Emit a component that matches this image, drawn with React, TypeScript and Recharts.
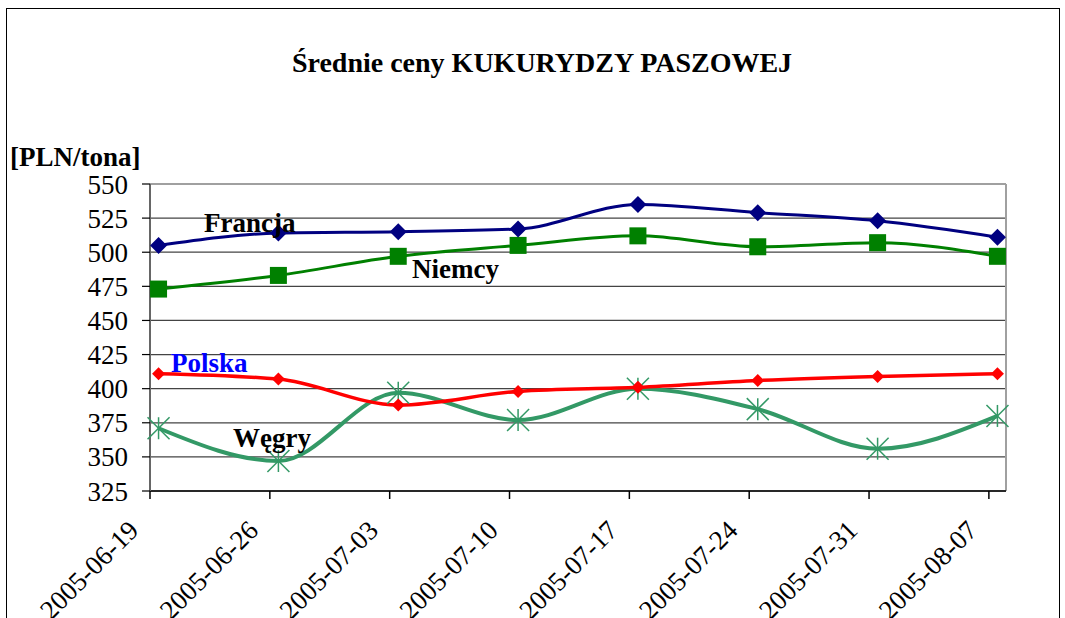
import { LineChart, Line, XAxis, YAxis, CartesianGrid, ReferenceLine } from 'recharts';

const dates = ['2005-06-19', '2005-06-26', '2005-07-03', '2005-07-10', '2005-07-17', '2005-07-24', '2005-07-31', '2005-08-07'];
const francja = [505, 514, 515, 517, 535, 529, 523, 511];
const niemcy = [473, 483, 497, 505, 512, 504, 507, 497];
const polska = [411, 407, 388, 398, 401, 406, 409, 411];
const wegry = [371, 347, 397, 377, 400, 385, 356, 380];
const yTicks = [325, 350, 375, 400, 425, 450, 475, 500, 525, 550];

const DAY = 86400000;
const start = Date.parse(dates[0]);
const dayOf = (d: string) => Math.round((Date.parse(d) - start) / DAY);
// Excel date axis: each point sits in the middle of its day
const data = dates.map((d, i) => ({
  x: dayOf(d) + 0.5,
  francja: francja[i],
  niemcy: niemcy[i],
  polska: polska[i],
  wegry: wegry[i],
}));
const xTicks = dates.map(dayOf);
const xEnd = dayOf(dates[dates.length - 1]) + 1;

const FONT = 'Liberation Serif, Tinos, Times New Roman, DejaVu Serif, serif';

const Diamond = (color: string, r: number) => (p: any) => {
  const { cx, cy } = p;
  if (cx == null || cy == null) return <g />;
  return <polygon points={`${cx},${cy - r} ${cx + r},${cy} ${cx},${cy + r} ${cx - r},${cy}`} fill={color} />;
};

const Square = (color: string, r: number) => (p: any) => {
  const { cx, cy } = p;
  if (cx == null || cy == null) return <g />;
  return <rect x={cx - r} y={cy - r} width={r * 2} height={r * 2} fill={color} />;
};

const Star = (color: string, r: number) => (p: any) => {
  const { cx, cy } = p;
  if (cx == null || cy == null) return <g />;
  return (
    <g stroke={color} strokeWidth={1.5}>
      <line x1={cx - r} y1={cy - r} x2={cx + r} y2={cy + r} />
      <line x1={cx - r} y1={cy + r} x2={cx + r} y2={cy - r} />
      <line x1={cx} y1={cy - r} x2={cx} y2={cy + r} />
    </g>
  );
};

const DateTick = (props: any) => {
  const { x, y, payload } = props;
  const label = dates[xTicks.indexOf(payload.value)] ?? '';
  const ax = x - 10;
  const ay = y + 31;
  return (
    <text x={ax} y={ay} textAnchor="end" fontFamily={FONT} fontSize={27} fill="#000" transform={`rotate(-45 ${ax} ${ay})`}>
      {label}
    </text>
  );
};

export default function App() {
  return (
    <div style={{ position: 'absolute', left: 0, top: 0, width: 1065, height: 618, overflow: 'hidden', background: '#fff', fontFamily: FONT }}>
      <div style={{ position: 'absolute', left: 6, top: 8, width: 1054, height: 700, border: '1px solid #000', boxSizing: 'border-box' }} />
      <LineChart width={1065} height={618} data={data} margin={{ top: 184, right: 59, bottom: 87, left: 0 }} style={{ fontFamily: FONT }}>
        <CartesianGrid horizontal vertical={false} stroke="#444" strokeWidth={1.2} />
        <XAxis
          dataKey="x" type="number" domain={[0, xEnd]} ticks={xTicks} interval={0}
          height={40} tickSize={8} tick={<DateTick />}
          axisLine={{ stroke: '#000', strokeWidth: 1.5 }} tickLine={{ stroke: '#000', strokeWidth: 1.5 }}
        />
        <YAxis
          type="number" domain={[325, 550]} ticks={yTicks} interval={0} width={150}
          tickSize={8} tickMargin={14}
          tick={{ fontFamily: FONT, fontSize: 27, fill: '#000' }}
          axisLine={{ stroke: '#666', strokeWidth: 2 }} tickLine={{ stroke: '#000', strokeWidth: 1.2 }}
        />
        <ReferenceLine y={550} stroke="#a0a0a0" strokeWidth={2} />
        <ReferenceLine x={xEnd} stroke="#a0a0a0" strokeWidth={2} />
        <Line dataKey="wegry" type="monotone" stroke="#339966" strokeWidth={4} dot={Star('#339966', 11)} isAnimationActive={false} />
        <Line dataKey="polska" type="monotone" stroke="#ff0000" strokeWidth={3.5} dot={Diamond('#ff0000', 6.5)} isAnimationActive={false} />
        <Line dataKey="niemcy" type="monotone" stroke="#008000" strokeWidth={3} dot={Square('#008000', 8.5)} isAnimationActive={false} />
        <Line dataKey="francja" type="monotone" stroke="#000080" strokeWidth={3} dot={Diamond('#000080', 8.5)} isAnimationActive={false} />
      </LineChart>
      <svg width={1065} height={618} style={{ position: 'absolute', left: 0, top: 0, pointerEvents: 'none' }}>
        <g fontFamily={FONT} fontWeight="bold" fontSize={27}>
          <text x={542} y={72} textAnchor="middle" fontSize={28}>Średnie ceny KUKURYDZY PASZOWEJ</text>
          <text x={10} y={166}>[PLN/tona]</text>
          <text x={204} y={232}>Francja</text>
          <text x={412} y={278}>Niemcy</text>
          <text x={171} y={372} fill="#0000ff">Polska</text>
          <text x={233} y={447}>Węgry</text>
        </g>
      </svg>
    </div>
  );
}
